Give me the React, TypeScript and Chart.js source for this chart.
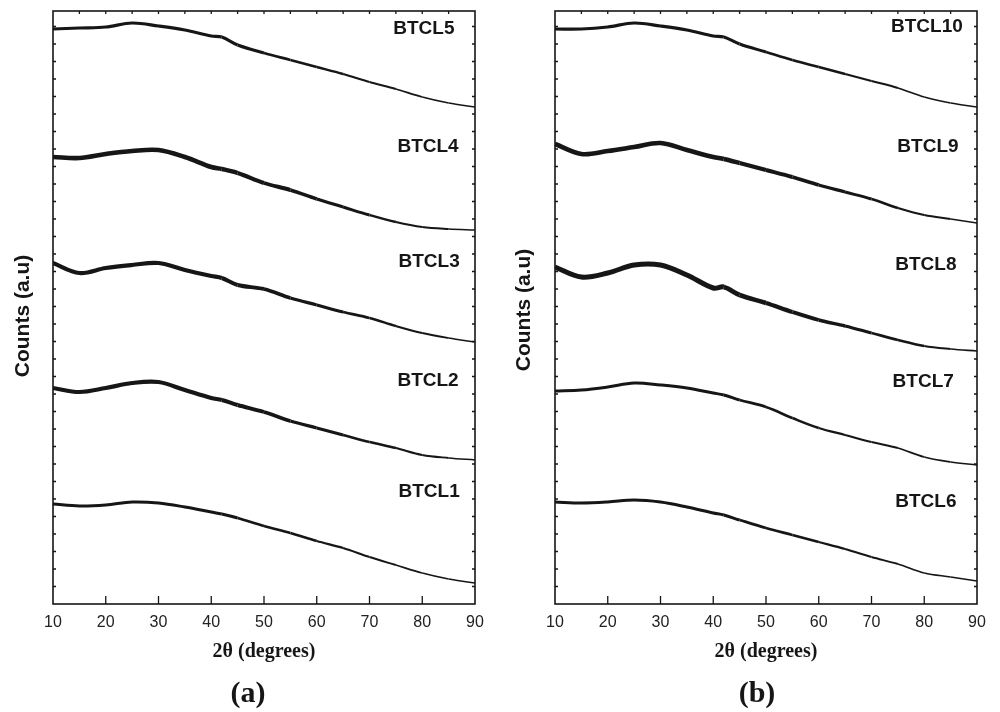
import React, { useEffect, useRef } from "react";
import { Chart, registerables } from "chart.js";

Chart.register(...registerables);

// 2θ positions (degrees) at which the curves were read
const twoTheta = [10, 15, 20, 25, 30, 35, 40, 42, 45, 50, 55, 60, 65, 70, 75, 80, 85, 90];

// Panel (a): counts (arbitrary units, stacked offsets included)
const btcl1 = [100, 98, 99, 102, 101, 97, 92, 90, 86, 78, 71, 63, 56, 47, 39, 31, 25, 21];
const btcl2 = [216, 212, 216, 221, 222, 214, 206, 204, 199, 192, 183, 176, 169, 162, 156, 149, 146, 144];
const btcl3 = [341, 331, 336, 339, 341, 334, 328, 326, 319, 315, 306, 299, 292, 286, 278, 271, 266, 262];
const btcl4 = [447, 446, 450, 453, 454, 447, 437, 435, 431, 421, 414, 405, 397, 389, 382, 377, 375, 374];
const btcl5 = [575, 576, 577, 581, 578, 574, 568, 567, 559, 551, 544, 537, 530, 522, 515, 507, 501, 497];

// Panel (b)
const btcl6 = [102, 101, 102, 104, 102, 97, 91, 89, 84, 76, 69, 62, 55, 47, 40, 31, 27, 23];
const btcl7 = [213, 214, 217, 221, 219, 216, 211, 209, 204, 197, 186, 176, 169, 162, 156, 147, 142, 139];
const btcl8 = [337, 327, 331, 339, 339, 329, 316, 317, 309, 301, 292, 284, 278, 271, 264, 258, 255, 253];
const btcl9 = [460, 450, 453, 457, 461, 454, 447, 445, 441, 434, 427, 419, 412, 405, 396, 389, 385, 381];
const btcl10 = [575, 575, 577, 581, 578, 574, 568, 567, 560, 552, 544, 537, 530, 523, 516, 507, 501, 497];

const xTickValues = [10, 20, 30, 40, 50, 60, 70, 80, 90];
const namesA = ["BTCL1", "BTCL2", "BTCL3", "BTCL4", "BTCL5"];
const namesB = ["BTCL6", "BTCL7", "BTCL8", "BTCL9", "BTCL10"];

const Y_MAX = 593;
const INK = "#161616";
const SANS = '"Liberation Sans", Arial, Helvetica, sans-serif';
const SERIF = '"Liberation Serif", "Times New Roman", serif';

type Panel = {
  tag: string;
  names: string[];
  series: number[][];
  noise: number[];
  labelPos: [number, number][];
  padLeft: number;
  padRight: number;
  yTitleX: number;
  yTitleY: number;
  tagX: number;
};

const panelA: Panel = {
  tag: "(a)",
  names: namesA,
  series: [btcl1, btcl2, btcl3, btcl4, btcl5],
  noise: [3, 4.2, 4.2, 4.6, 3.2],
  labelPos: [[81.3, 112], [81.1, 223], [81.3, 342], [81.1, 457], [80.3, 575]],
  padLeft: 53,
  padRight: 25,
  yTitleX: 23,
  yTitleY: 316,
  tagX: 248,
};

const panelB: Panel = {
  tag: "(b)",
  names: namesB,
  series: [btcl6, btcl7, btcl8, btcl9, btcl10],
  noise: [3, 3, 5, 4.6, 3.2],
  labelPos: [[80.3, 102], [79.8, 222], [80.3, 339], [80.7, 457], [80.5, 577]],
  padLeft: 55,
  padRight: 23,
  yTitleX: 24,
  yTitleY: 310,
  tagX: 257,
};

function widthAt(x: number, noise: number) {
  if (x <= 40) return noise;
  const end = 1.2;
  return noise + ((end - noise) * (x - 40)) / 50;
}

const framePlugin = {
  id: "frame",
  afterDraw(chart: any, _args: any, opts: any) {
    const { ctx, chartArea: a, scales } = chart;
    const x = scales.x;
    const y = scales.y;
    ctx.save();
    ctx.strokeStyle = INK;
    ctx.lineWidth = 1.6;
    ctx.strokeRect(a.left, a.top, a.right - a.left, a.bottom - a.top);

    ctx.lineWidth = 1.3;
    ctx.beginPath();
    for (const v of xTickValues) {
      if (v === 10 || v === 90) continue;
      const px = x.getPixelForValue(v);
      ctx.moveTo(px, a.bottom);
      ctx.lineTo(px, a.bottom - 8);
    }
    for (let v = 15; v < 90; v += 5) {
      const px = x.getPixelForValue(v);
      ctx.moveTo(px, a.top);
      ctx.lineTo(px, a.top + 3);
    }
    for (let v = 17.5; v < Y_MAX - 5; v += 17.5) {
      const py = y.getPixelForValue(v);
      ctx.moveTo(a.left, py);
      ctx.lineTo(a.left + 3, py);
      ctx.moveTo(a.right, py);
      ctx.lineTo(a.right - 3, py);
    }
    ctx.stroke();

    ctx.fillStyle = INK;
    ctx.textAlign = "center";
    ctx.textBaseline = "middle";
    ctx.font = `bold 19px ${SANS}`;
    opts.names.forEach((n: string, i: number) => {
      const [lx, ly] = opts.labelPos[i];
      ctx.fillText(n, x.getPixelForValue(lx), y.getPixelForValue(ly));
    });

    ctx.font = `bold 20px ${SERIF}`;
    ctx.fillText("2θ (degrees)", (a.left + a.right) / 2, 652);

    ctx.font = `bold 30px ${SERIF}`;
    ctx.fillText(opts.tag, opts.tagX, 694);

    ctx.save();
    ctx.translate(opts.yTitleX, opts.yTitleY);
    ctx.rotate(-Math.PI / 2);
    ctx.font = `bold 21px ${SANS}`;
    ctx.fillText("Counts (a.u)", 0, 0);
    ctx.restore();

    ctx.restore();
  },
};

function PanelChart({ panel, left }: { panel: Panel; left: number }) {
  const ref = useRef<HTMLCanvasElement | null>(null);
  useEffect(() => {
    if (!ref.current) return;
    const chart = new Chart(ref.current, {
      type: "line",
      data: {
        datasets: panel.series.map((vals, si) => ({
          label: panel.names[si],
          data: twoTheta.map((t, i) => ({ x: t, y: vals[i] })),
          borderColor: INK,
          borderWidth: 1.3,
          pointRadius: 0,
          tension: 0.35,
          fill: false,
          segment: {
            borderWidth: (c: any) => widthAt(c.p0.parsed.x, panel.noise[si]),
          },
        })),
      },
      options: {
        animation: false,
        responsive: false,
        events: [],
        layout: { padding: { left: panel.padLeft, right: panel.padRight, top: 11, bottom: 0 } },
        plugins: {
          legend: { display: false },
          tooltip: { enabled: false },
          frame: {
            names: panel.names,
            labelPos: panel.labelPos,
            tag: panel.tag,
            tagX: panel.tagX,
            yTitleX: panel.yTitleX,
            yTitleY: panel.yTitleY,
          },
        } as any,
        scales: {
          x: {
            type: "linear",
            min: 10,
            max: 90,
            afterBuildTicks: (s: any) => {
              s.ticks = xTickValues.map((v) => ({ value: v }));
            },
            afterFit: (s: any) => {
              s.height = 108;
            },
            grid: { display: false },
            border: { display: false },
            ticks: {
              color: "#222",
              font: { family: SANS, size: 16 },
              padding: 1,
              maxRotation: 0,
              autoSkip: false,
            },
          },
          y: { display: false, min: 0, max: Y_MAX },
        },
      },
      plugins: [framePlugin],
    } as any);
    return () => chart.destroy();
  }, [panel]);
  return (
    <canvas
      ref={ref}
      width={500}
      height={712}
      style={{ position: "absolute", left, top: 0, width: 500, height: 712, display: "block" }}
    />
  );
}

export default function App() {
  return (
    <div style={{ position: "absolute", left: 0, top: 0, width: 1000, height: 712, background: "#fff" }}>
      <PanelChart panel={panelA} left={0} />
      <PanelChart panel={panelB} left={500} />
    </div>
  );
}
